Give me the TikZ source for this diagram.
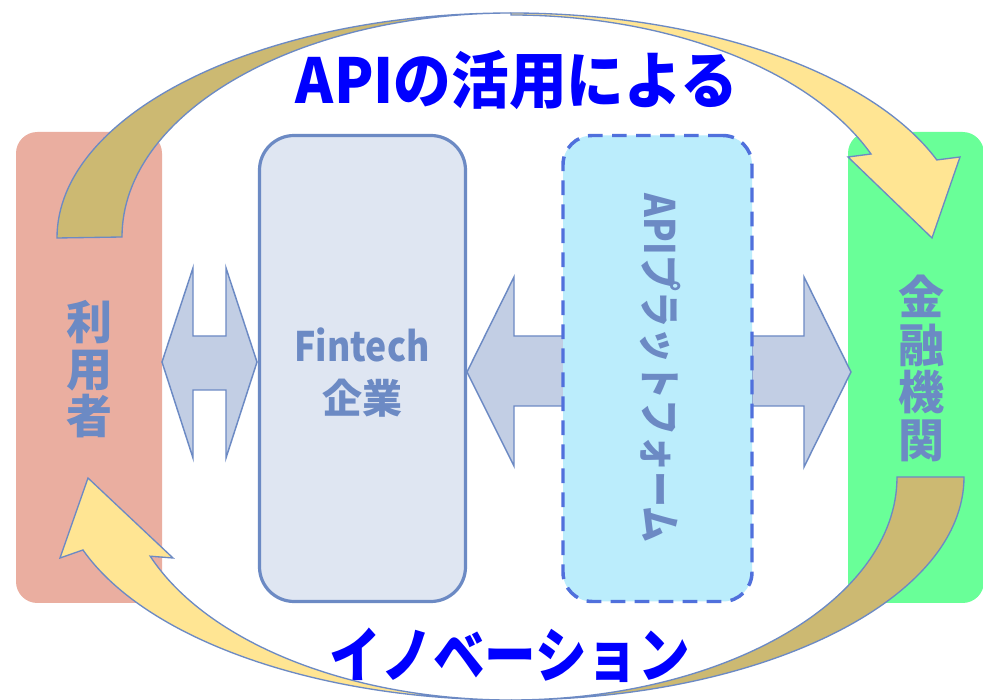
\documentclass[tikz,border=0pt]{standalone}
\usepackage{fontspec}
\usepackage{graphicx}
\newfontfamily\jp{Noto Sans CJK JP}
\definecolor{steel}{HTML}{6C8AC4}
\definecolor{arrowfill}{HTML}{C2CEE4}
\definecolor{pinkbox}{HTML}{EAAEA0}
\definecolor{greenbox}{HTML}{69FF98}
\definecolor{finfill}{HTML}{DFE6F2}
\definecolor{apifill}{HTML}{BBEDFC}
\definecolor{apidash}{HTML}{5070DC}
\definecolor{khaki}{HTML}{CCB972}
\definecolor{lightyellow}{HTML}{FFE593}
\definecolor{titleblue}{HTML}{0000FF}
\begin{document}
\begin{tikzpicture}[x=0.75pt,y=0.75pt,
  box/.style={rectangle, inner sep=0pt, outer sep=0pt},
  lbl/.style={inner sep=0pt, text=steel},
  blockarrow/.style={fill=arrowfill, draw=steel, line width=1.1pt, line join=miter},
  ribbon/.style={draw=steel, line width=1pt, line join=miter},
  titletext/.style={inner sep=0pt, text=titleblue}]
\useasboundingbox (0,0) rectangle (983,700);
\fill[white] (0,0) rectangle (983,700);

% outer boxes
\node[box, fill=pinkbox, rounded corners=16pt, minimum width=109.5pt, minimum height=353.25pt] (user) at (89,332.5) {};
\node[box, fill=greenbox, rounded corners=16pt, minimum width=102pt, minimum height=353.25pt] (bank) at (916,332.5) {};

% block arrows
\draw[blockarrow] (162,338) -- (193,432) -- (193,364) -- (226,364) -- (226,432) -- (257,338)
  -- (226,242) -- (226,310) -- (193,310) -- (193,242) -- cycle;
\draw[blockarrow] (467,328) -- (514,423) -- (514,364) -- (564,364) -- (564,294) -- (514,294) -- (514,234) -- cycle;
\draw[blockarrow] (752,364) -- (804,364) -- (804,423) -- (851,328) -- (804,233) -- (804,294) -- (752,294) -- cycle;

% inner boxes
\node[box, fill=finfill, draw=steel, line width=2.4pt, rounded corners=26pt, minimum width=154.5pt, minimum height=349.5pt] (fin) at (362.5,331.5) {};
\node[box, fill=apifill, draw=apidash, line width=2.6pt, dash pattern=on 11pt off 7pt, rounded corners=22pt, minimum width=141.75pt, minimum height=349.5pt] (api) at (657.5,331.5) {};

% labels
\node[lbl, align=center, font=\jp\bfseries\fontsize{34.5}{35.25}\selectfont] (userlbl) at (89.5,331) {利\\用\\者};
\node[lbl, align=center, font=\jp\bfseries\fontsize{34.5}{35.6}\selectfont] (banklbl) at (921.5,331.5) {金\\融\\機\\関};
\node[lbl, font=\jp\bfseries\fontsize{29}{30}\selectfont] (finlbl1) at (362,355) {\scalebox{0.92}[1.05]{Fintech}};
\node[lbl, font=\jp\bfseries\fontsize{30}{31}\selectfont] (finlbl2) at (362,302) {企業};
\node[lbl, rotate=-90, font=\jp\bfseries\fontsize{30}{31}\selectfont] (apilbl) at (660,332) {\scalebox{0.9}[1.05]{APIプラットフォーム}};

% titles
\node[titletext, font=\jp\bfseries\fontsize{46.5}{48}\selectfont] (title) at (517,620) {\scalebox{0.93}[1]{APIの活用による}};
\node[titletext, font=\jp\bfseries\fontsize{45}{46}\selectfont] (innov) at (510,45) {\scalebox{0.86}[1]{イノベーション}};

% top curved arrow
\draw[ribbon, fill=khaki] (57,462) arc[start angle=180,end angle=90,x radius=454,y radius=225]
  arc[start angle=90,end angle=180,x radius=389,y radius=224] -- cycle;
\draw[ribbon, fill=lightyellow] (511,687) arc[start angle=90,end angle=20.3,x radius=454,y radius=225]
  -- (960,543) -- (932,462) -- (848,543) -- (871,546)
  arc[start angle=22.3,end angle=90,x radius=389,y radius=224] -- cycle;

% bottom curved arrow
\draw[ribbon, fill=khaki] (964,223) arc[start angle=0,end angle=-90,x radius=453,y radius=223]
  arc[start angle=-90,end angle=0,x radius=386,y radius=223] -- cycle;
\draw[ribbon, fill=lightyellow] (511,0) arc[start angle=-90,end angle=-160.9,x radius=453,y radius=223]
  -- (60,142) -- (88,222) -- (173,142) -- (150.2,143.8)
  arc[start angle=-159.2,end angle=-90,x radius=386,y radius=223] -- cycle;
\end{tikzpicture}
\end{document}
